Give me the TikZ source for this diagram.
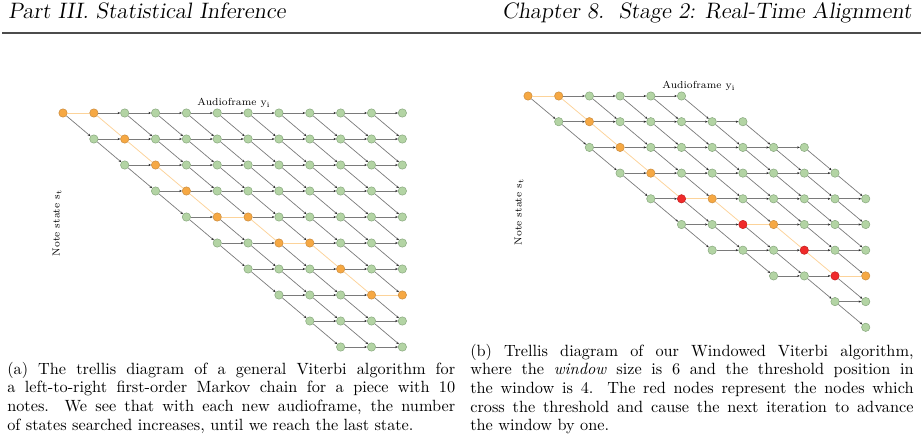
\documentclass[tikz,border=0pt]{standalone}
\usepackage{tikz}
\usetikzlibrary{arrows.meta, positioning}

\definecolor{statefill}{HTML}{B3D4A4}
\definecolor{stateline}{HTML}{8AAA80}
\definecolor{bestfill}{HTML}{F6A843}
\definecolor{bestline}{HTML}{CC8E40}
\definecolor{crossfill}{HTML}{F02A2A}
\definecolor{crossline}{HTML}{C42020}
\definecolor{pathline}{HTML}{FCD39A}
\definecolor{linkline}{HTML}{7A7A7A}

% flag = 1 if the key is in the list
\makeatletter
\newcommand\setflag[3]{%
  \edef\@tempa{\noexpand\in@{,#2,}{,#3,}}\@tempa
  \ifin@\def#1{1}\else\def#1{0}\fi}
\makeatother

% draw a link if the target node exists
\newcommand\linknodes[4]{%
  \ifcsname pgf@sh@ns@#1-#3\endcsname
    \setflag\srcon{#2}{#4}\setflag\dston{#3}{#4}%
    \ifnum\numexpr\srcon*\dston\relax=1
      \draw[bestlink] (#1-#2) -- (#1-#3);
    \else
      \draw[link] (#1-#2) -- (#1-#3);
    \fi
  \fi}

\def\bestL{0-0,0-1,1-2,2-3,3-4,4-5,4-6,5-7,5-8,6-9,7-10,7-11}
\def\bestR{0-0,0-1,1-2,2-3,3-4,4-6,5-8,7-11}
\def\crossR{4-5,5-7,6-9,7-10}

\begin{document}
\begin{tikzpicture}[
  x=0.6452pt, y=-0.6452pt,
  >=Stealth,
  trnode/.style={circle, line width=0.35pt, minimum size=5.4pt, inner sep=0pt},
  link/.style={draw=linkline, line width=0.45pt, -{Stealth[length=1.7pt, width=1.4pt, color=black!85]}},
  bestlink/.style={draw=pathline, line width=0.5pt},
  axislabel/.style={font=\fontsize{6.6}{7}\selectfont, inner sep=0pt},
  headline/.style={font=\Large\slshape, inner sep=0pt},
  caption/.style={anchor=base west, align=justify, inner sep=0pt, font=\fontsize{10.5}{12.05}\selectfont},
]
  \useasboundingbox (0,0) rectangle (921,441);

  % running head
  \node[headline, anchor=base west] (lhead) at (8,19) {Part III. Statistical Inference};
  \node[headline, anchor=base east] (rhead) at (912,19) {Chapter 8.\ \ Stage 2: Real-Time Alignment};
  \coordinate (ruleL) at (2,33);
  \coordinate (ruleR) at (921,33);
  \draw[line width=0.8pt, black!70] (ruleL) -- (ruleR);

  % (a) full trellis
  \foreach \r in {0,...,9}{
    \foreach \c in {\r,...,11}{
      \setflag\isbest{\r-\c}{\bestL}
      \def\nfill{statefill}\def\nline{stateline}
      \ifnum\isbest=1 \def\nfill{bestfill}\def\nline{bestline}\fi
      \node[trnode, fill=\nfill, draw=\nline] (L-\r-\c) at (63+30.85*\c, 113+26*\r) {};
    }
  }
  \foreach \r in {0,...,9}{
    \foreach \c in {\r,...,11}{
      \pgfmathtruncatemacro\cn{\c+1}
      \pgfmathtruncatemacro\rn{\r+1}
      \linknodes{L}{\r-\c}{\r-\cn}{\bestL}
      \linknodes{L}{\r-\c}{\rn-\cn}{\bestL}
    }
  }
  \node[axislabel] (frameL) at (234,103) {Audioframe y$_\mathrm{i}$};
  \node[axislabel, rotate=90] (stateL) at (57,223) {Note state s$_\mathrm{t}$};

  % (b) windowed trellis
  \foreach \r/\first/\last in {0/0/5,1/1/7,2/2/9,3/3/10,4/4/11,5/5/11,6/6/11,7/8/11,8/10/11,9/11/11}{
    \foreach \c in {\first,...,\last}{
      \setflag\isbest{\r-\c}{\bestR}
      \setflag\iscross{\r-\c}{\crossR}
      \def\nfill{statefill}\def\nline{stateline}
      \ifnum\isbest=1 \def\nfill{bestfill}\def\nline{bestline}\fi
      \ifnum\iscross=1 \def\nfill{crossfill}\def\nline{crossline}\fi
      \node[trnode, fill=\nfill, draw=\nline] (R-\r-\c) at (528+30.7*\c, 96+25.7*\r) {};
    }
  }
  \foreach \r/\first/\last in {0/0/5,1/1/7,2/2/9,3/3/10,4/4/11,5/5/11,6/6/11,7/8/11,8/10/11,9/11/11}{
    \foreach \c in {\first,...,\last}{
      \pgfmathtruncatemacro\cn{\c+1}
      \pgfmathtruncatemacro\rn{\r+1}
      \linknodes{R}{\r-\c}{\r-\cn}{\bestR,\crossR}
      \linknodes{R}{\r-\c}{\rn-\cn}{\bestR,\crossR}
    }
  }
  \node[axislabel] (frameR) at (699,86) {Audioframe y$_\mathrm{i}$};
  \node[axislabel, rotate=90] (stateR) at (519,212) {Note state s$_\mathrm{t}$};

  % captions
  \node[caption, text width=289pt] (capL) at (7,374) {(a) The trellis diagram of a general Viterbi algorithm for\linebreak a left-to-right first-order Markov chain for a piece with 10\linebreak notes. We see that with each new audioframe, the number\linebreak of states searched increases, until we reach the last state.};
  \node[caption, text width=286pt] (capR) at (470,356) {(b) Trellis diagram of our Windowed Viterbi algorithm,\linebreak where the \emph{window} size is 6 and the threshold position in\linebreak the window is 4. The red nodes represent the nodes which\linebreak cross the threshold and cause the next iteration to advance\linebreak the window by one.};
\end{tikzpicture}
\end{document}
